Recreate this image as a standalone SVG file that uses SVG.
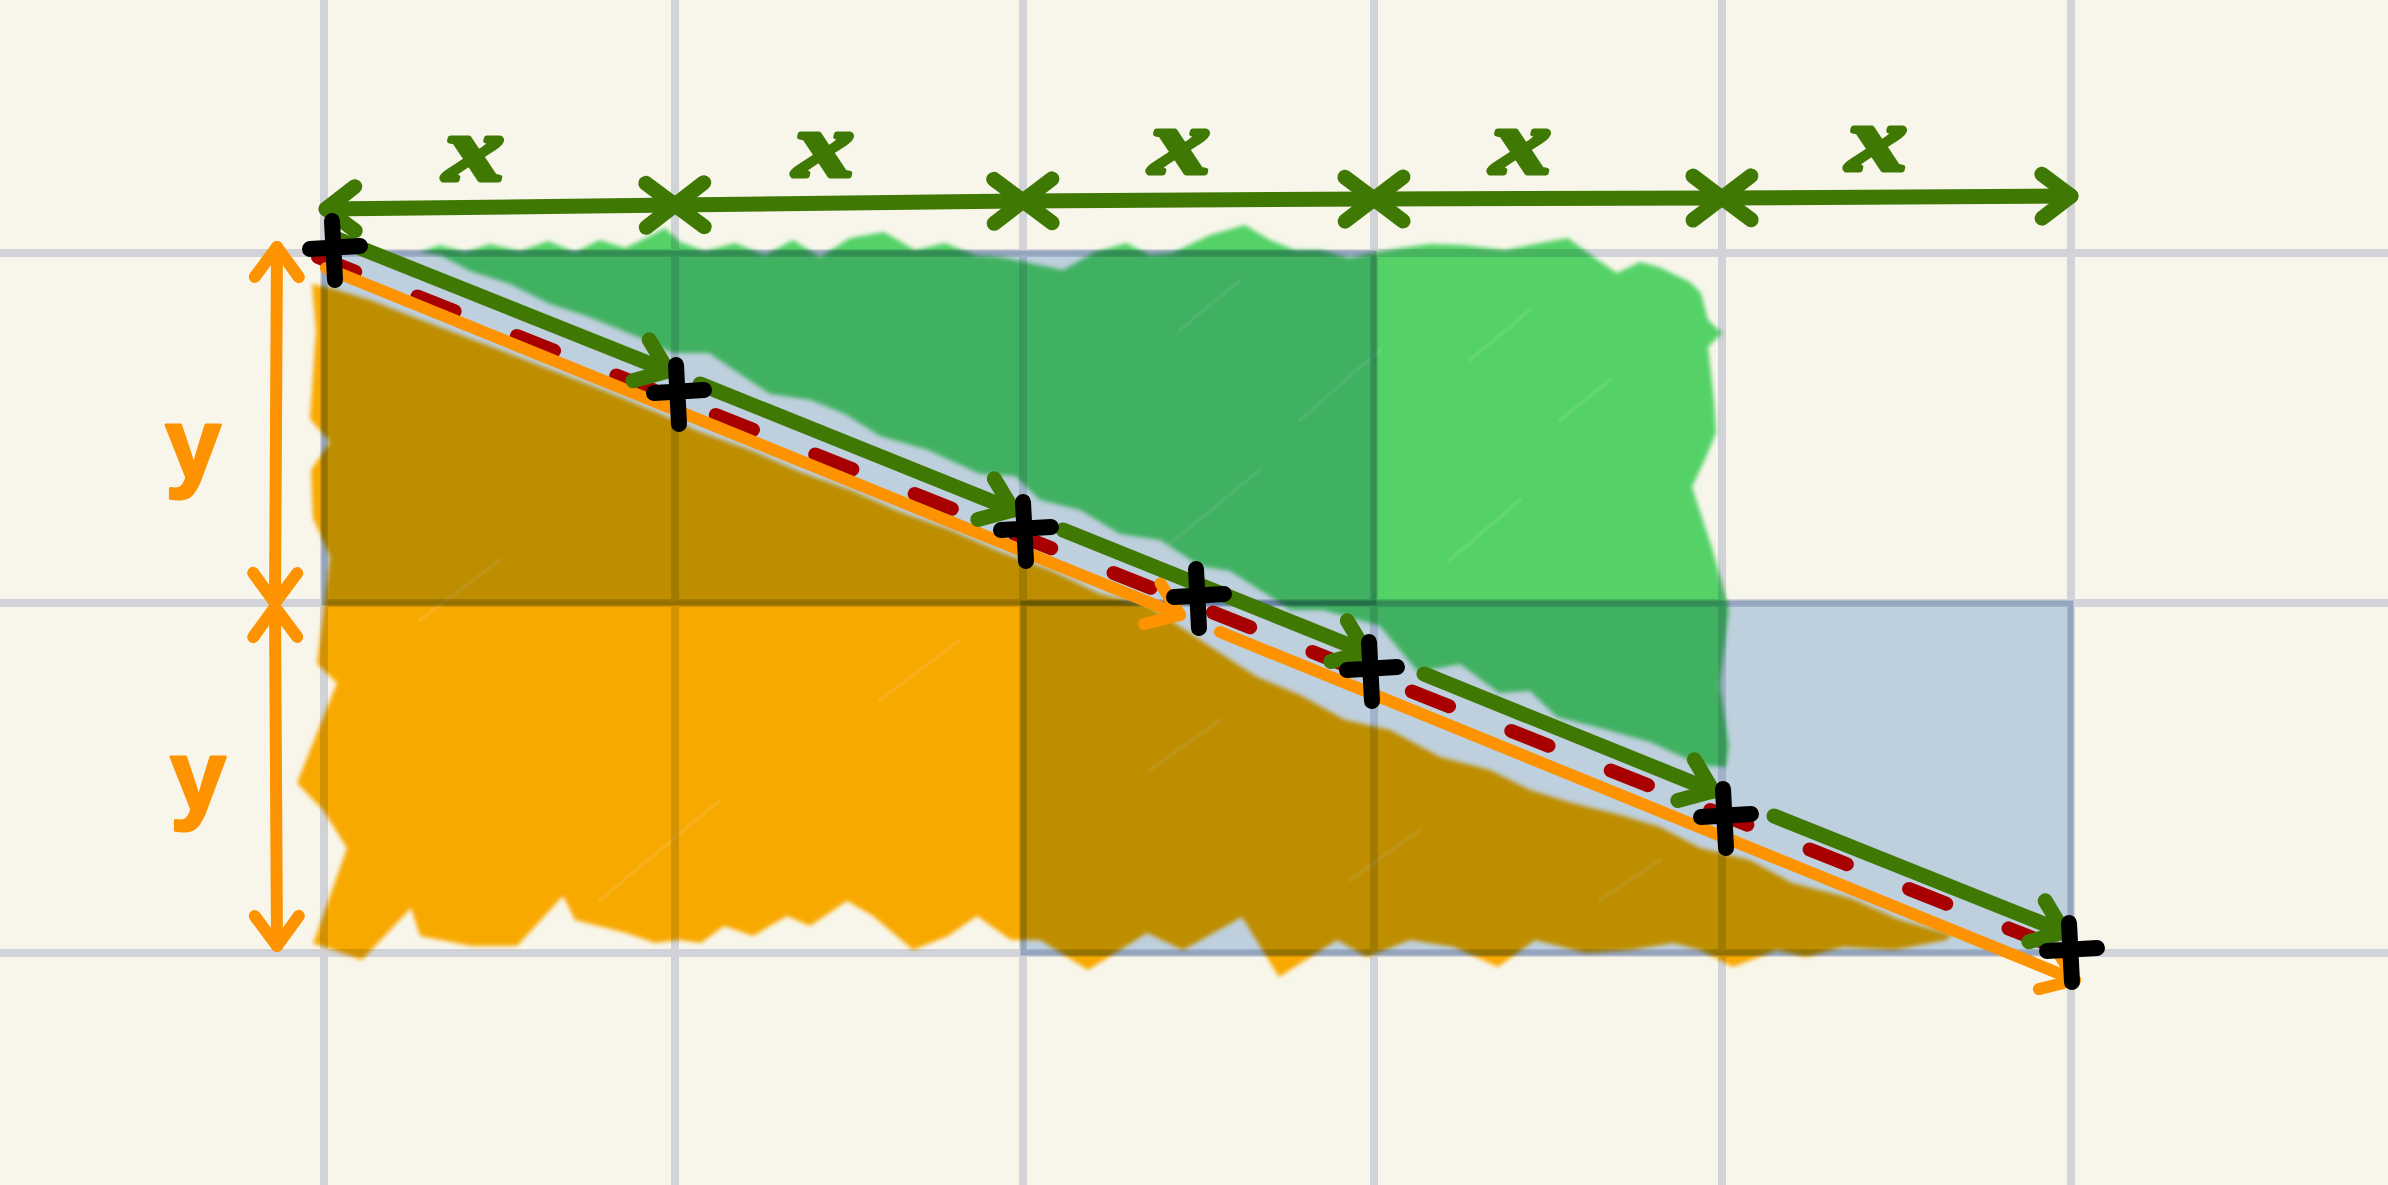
<svg xmlns="http://www.w3.org/2000/svg" width="2388" height="1185" viewBox="0 0 2388 1185">
<style>
.grid{stroke:#d2d3d8;stroke-width:8;fill:none}
.blue{fill:#c4d7f0;stroke:#b4c8e0;stroke-width:5;mix-blend-mode:multiply}
.hl{mix-blend-mode:multiply}
.streak{stroke:#ffffff;stroke-opacity:0.1;stroke-width:4;stroke-linecap:round;fill:none}
.gl{stroke:#3f7803;stroke-width:15;stroke-linecap:round;fill:none}
.ol{stroke:#fd9300;stroke-width:12;stroke-linecap:round;fill:none}
.red{stroke:#a80000;stroke-width:14;stroke-linecap:round;stroke-dasharray:40 67;fill:none}
.plus{stroke:#000;stroke-width:16;stroke-linecap:round;fill:none}
.xl{font-family:"Liberation Serif",serif;font-style:italic;font-weight:bold;font-size:92px;fill:#3f7803;stroke:#3f7803;stroke-width:5;stroke-linejoin:round}
.yl{font-family:"Liberation Sans",sans-serif;font-weight:bold;font-size:100px;fill:#fd9300;stroke:#fd9300;stroke-width:3;stroke-linejoin:round}
</style>
<defs>
<marker id="mg" viewBox="-50 -40 70 80" refX="0" refY="0" markerWidth="70" markerHeight="80" markerUnits="userSpaceOnUse" orient="auto-start-reverse" overflow="visible">
<path d="M-29,-22 L0,0 L-29,22" fill="none" stroke="#3f7803" stroke-width="15" stroke-linecap="round" stroke-linejoin="round"/>
</marker>
<marker id="mo" viewBox="-50 -40 70 80" refX="0" refY="0" markerWidth="70" markerHeight="80" markerUnits="userSpaceOnUse" orient="auto-start-reverse" overflow="visible">
<path d="M-30,-22 L0,0 L-30,22" fill="none" stroke="#fd9300" stroke-width="12" stroke-linecap="round" stroke-linejoin="round"/>
</marker>
<filter id="soft" x="-5%" y="-5%" width="110%" height="110%"><feGaussianBlur stdDeviation="2.2"/></filter>
<path id="plus" d="M-24,-1 L26,-4 M-2,-29 L1,30"/>
</defs>

<rect x="0" y="0" width="2388" height="1185" fill="#f8f6eb"/>

<g id="grid">
<path class="grid" d="M324,0V1185M675,0V1185M1023,0V1185M1374,0V1185M1722,0V1185M2071,0V1185M0,253H2388M0,603H2388M0,953H2388"/>
</g>

<g id="blue-area">
<rect class="blue" x="324" y="253" width="1050" height="350"/>
<rect class="blue" x="1023" y="603" width="1048" height="350"/>
</g>

<g id="green-fill" class="hl">
<polygon filter="url(#soft)" fill="#56da6f" points="420,252 440,245 465,252 490,244 520,251 548,241 575,252 600,240 625,248 650,236 665,228 680,242 705,251 735,243 765,255 793,240 820,257 850,238 884,232 915,250 945,243 975,255 1000,257 1030,263 1063,270 1095,252 1126,243 1150,255 1172,253 1210,235 1245,225 1270,240 1295,250 1320,250 1350,258 1372,253 1400,248 1430,244 1463,245 1505,250 1540,243 1568,238 1595,258 1617,273 1640,262 1659,267 1690,282 1701,293 1708,320 1722,333 1708,347 1714,400 1716,433 1706,457 1692,487 1712,548 1729,609 1720,685 1729,746 1726,767 1700,765 1650,742 1600,728 1557,717 1530,691 1499,693 1460,664 1418,672 1380,626 1323,610 1290,610 1271,597 1230,571 1200,566 1160,540 1120,534 1080,510 1040,500 1015,476 980,474 928,450 880,436 845,414 811,400 770,394 740,374 709,353 673,353 640,338 587,316 550,304 510,284 470,271 440,255"/>
<path class="streak" d="M1150,560L1260,470M1300,420L1380,350M1450,560L1520,500M1560,420L1610,380M1180,330L1240,280M1470,360L1530,310"/>
</g>

<g id="orange-fill" class="hl">
<polygon filter="url(#soft)" fill="#ffaf03" points="312,284 330,288 370,300 403,313 450,331 500,350 556,372 600,389 658,413 700,432 750,450 800,472 850,490 900,512 950,530 1000,552 1050,570 1100,594 1147,605 1200,640 1257,677 1300,695 1345,720 1390,730 1440,757 1490,770 1530,790 1572,803 1620,815 1660,827 1700,848 1750,860 1792,883 1850,898 1900,920 1952,935 1946,940 1894,950 1843,947 1806,957 1777,950 1733,967 1700,950 1674,943 1630,950 1586,953 1535,940 1498,967 1454,947 1410,940 1367,957 1337,940 1279,977 1242,917 1183,950 1147,933 1088,970 1040,940 1011,940 977,916 948,936 913,950 873,916 847,901 810,926 787,916 753,936 724,926 701,943 678,940 655,943 626,933 575,920 563,896 517,946 471,946 420,936 411,908 362,960 322,946 313,944 347,848 323,810 297,783 337,683 317,664 330,557 313,518 311,470 330,442 310,419 316,330"/>
<path class="streak" d="M600,900L720,800M880,700L960,640M1350,880L1420,830M1150,770L1220,720M420,620L500,560M1600,900L1660,860"/>
</g>

<g id="connectors">
<path id="red-dashed" class="red" d="M318,257L2068,952"/>
<g id="orange-diagonal">
<path class="ol" d="M326,268L1180,615" marker-end="url(#mo)"/>
<path class="ol" d="M1220,632L2075,980" marker-end="url(#mo)"/>
</g>
<g id="green-diagonal">
<path class="gl" d="M335,238L668,371" marker-end="url(#mg)"/>
<path class="gl" d="M700,384L1013,510" marker-end="url(#mg)"/>
<path class="gl" d="M1063,530L1366,652" marker-end="url(#mg)"/>
<path class="gl" d="M1424,674L1713,791" marker-end="url(#mg)"/>
<path class="gl" d="M1774,816L2064,932" marker-end="url(#mg)"/>
</g>
<g id="top-dimension">
<path class="gl" d="M326,209L675,205" marker-start="url(#mg)" marker-end="url(#mg)"/>
<path class="gl" d="M675,205L1023,201" marker-start="url(#mg)" marker-end="url(#mg)"/>
<path class="gl" d="M1023,201L1374,199" marker-start="url(#mg)" marker-end="url(#mg)"/>
<path class="gl" d="M1374,199L1722,198" marker-start="url(#mg)" marker-end="url(#mg)"/>
<path class="gl" d="M1722,198L2071,196" marker-start="url(#mg)" marker-end="url(#mg)"/>
</g>
<g id="side-dimension">
<path class="ol" d="M277,247L275,603" marker-start="url(#mo)" marker-end="url(#mo)"/>
<path class="ol" d="M275,607L277,946" marker-start="url(#mo)" marker-end="url(#mo)"/>
</g>
</g>

<g id="points" class="plus">
<use href="#plus" x="334" y="250"/>
<use href="#plus" x="678" y="394"/>
<use href="#plus" x="1025" y="531"/>
<use href="#plus" x="1198" y="598"/>
<use href="#plus" x="1371" y="671"/>
<use href="#plus" x="1725" y="818"/>
<use href="#plus" x="2071" y="952"/>
</g>

<g id="labels">
<text class="xl" text-anchor="middle" transform="translate(474,180) scale(1.3,1)">x</text>
<text class="xl" text-anchor="middle" transform="translate(824,176) scale(1.3,1)">x</text>
<text class="xl" text-anchor="middle" transform="translate(1180,173) scale(1.3,1)">x</text>
<text class="xl" text-anchor="middle" transform="translate(1521,173) scale(1.3,1)">x</text>
<text class="xl" text-anchor="middle" transform="translate(1877,170) scale(1.3,1)">x</text>
<text class="yl" text-anchor="middle" x="193" y="478">y</text>
<text class="yl" text-anchor="middle" x="198" y="810">y</text>
</g>
</svg>
